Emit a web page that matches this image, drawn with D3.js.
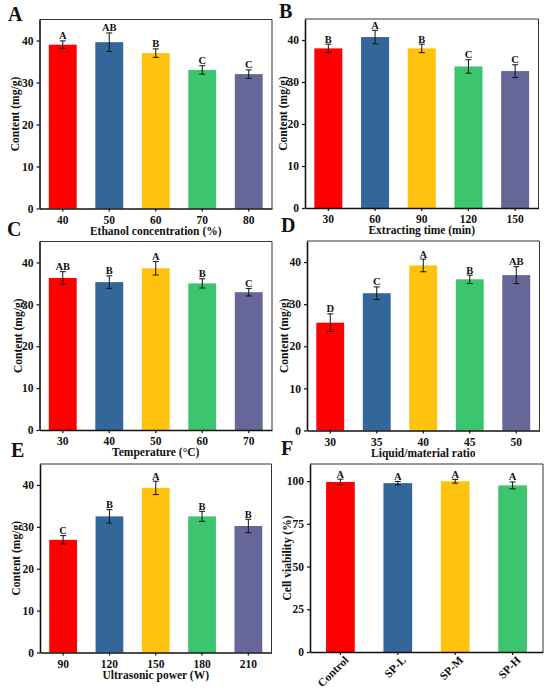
<!DOCTYPE html>
<html>
<head>
<meta charset="utf-8">
<script src="https://cdn.jsdelivr.net/npm/d3@7"></script>
<style>
  body { margin: 0; background: #fff; }
  svg text { font-family: "Liberation Serif", "Times New Roman", serif; font-weight: bold; fill: #111; }
</style>
</head>
<body>
<svg id="chart" width="550" height="694"></svg>
<script>
// bar colours, same order in every panel
var barColors = ["#ff0000", "#336699", "#ffc20e", "#3dc46e", "#666699"];

// A - ethanol concentration
var ethanolCats = ["40", "50", "60", "70", "80"];
var ethanolMean = [39.0, 39.6, 37.0, 33.0, 32.0];
var ethanolErr  = [0.9, 2.2, 1.0, 1.0, 1.0];
var ethanolSig  = ["A", "AB", "B", "C", "C"];

// B - extracting time
var timeCats = ["30", "60", "90", "120", "150"];
var timeMean = [38.0, 40.7, 38.0, 33.7, 32.6];
var timeErr  = [1.0, 1.6, 1.0, 1.6, 1.5];
var timeSig  = ["B", "A", "B", "C", "C"];

// C - temperature
var tempCats = ["30", "40", "50", "60", "70"];
var tempMean = [36.3, 35.3, 38.6, 35.0, 32.9];
var tempErr  = [1.5, 1.5, 1.6, 1.1, 0.9];
var tempSig  = ["AB", "B", "A", "B", "C"];

// D - liquid/material ratio
var ratioCats = ["30", "35", "40", "45", "50"];
var ratioMean = [25.6, 32.6, 39.2, 35.9, 36.9];
var ratioErr  = [2.1, 1.5, 1.5, 1.0, 2.0];
var ratioSig  = ["D", "C", "A", "B", "AB"];

// E - ultrasonic power
var powerCats = ["90", "120", "150", "180", "210"];
var powerMean = [26.9, 32.5, 39.3, 32.5, 30.2];
var powerErr  = [1.0, 1.6, 1.6, 1.2, 1.6];
var powerSig  = ["C", "B", "A", "B", "B"];

// F - cell viability
var cellCats = ["Control", "SP-L", "SP-M", "SP-H"];
var cellMean = [99.5, 98.8, 99.9, 97.5];
var cellErr  = [1.6, 1.0, 1.1, 2.0];
var cellSig  = ["A", "A", "A", "A"];

var contentTicks = [0, 10, 20, 30, 40];
var cellTicks = [0, 25, 50, 75, 100];

var svg = d3.select("#chart");

function drawPanel(p) {
  var g = svg.append("g").attr("transform", "translate(" + p.left + "," + p.top + ")");
  var w = p.width, h = p.height;

  var x = d3.scaleBand()
    .domain(p.cats)
    .range([0, w])
    .paddingInner(p.padIn)
    .paddingOuter(p.padOut);
  var y = d3.scaleLinear().domain([0, p.yMax]).range([h, 0]);

  var rows = p.cats.map(function(c, i) {
    return {cat: c, mean: p.mean[i], err: p.err[i], sig: p.sig[i], color: barColors[i]};
  });

  // bars
  g.selectAll("rect.bar").data(rows).enter().append("rect")
    .attr("class", "bar")
    .attr("x", function(d) { return x(d.cat); })
    .attr("y", function(d) { return y(d.mean); })
    .attr("width", x.bandwidth())
    .attr("height", function(d) { return h - y(d.mean); })
    .attr("fill", function(d) { return d.color; });

  // error bars
  var cap = 3;
  var eb = g.selectAll("g.err").data(rows).enter().append("g")
    .attr("class", "err")
    .attr("transform", function(d) { return "translate(" + (x(d.cat) + x.bandwidth() / 2) + ",0)"; })
    .attr("stroke", "#111").attr("stroke-width", 1);
  eb.append("line")
    .attr("y1", function(d) { return y(d.mean - d.err); })
    .attr("y2", function(d) { return y(d.mean + d.err); });
  eb.append("line").attr("x1", -cap).attr("x2", cap)
    .attr("y1", function(d) { return y(d.mean + d.err); })
    .attr("y2", function(d) { return y(d.mean + d.err); });
  eb.append("line").attr("x1", -cap).attr("x2", cap)
    .attr("y1", function(d) { return y(d.mean - d.err); })
    .attr("y2", function(d) { return y(d.mean - d.err); });

  // significance letters
  g.selectAll("text.sig").data(rows).enter().append("text")
    .attr("class", "sig")
    .attr("x", function(d) { return x(d.cat) + x.bandwidth() / 2; })
    .attr("y", function(d) { return y(d.mean + d.err) - 1.5; })
    .attr("text-anchor", "middle")
    .style("font-size", "10.5px")
    .text(function(d) { return d.sig; });

  // top / right frame
  g.append("path")
    .attr("d", "M0,0H" + w + "V" + h)
    .attr("fill", "none").attr("stroke", "#333").attr("stroke-width", 1);

  // axes
  var yAxis = g.append("g")
    .call(d3.axisLeft(y).tickValues(p.ticks).tickSize(3).tickPadding(3).tickSizeOuter(0));
  var xAxis = g.append("g").attr("transform", "translate(0," + h + ")")
    .call(d3.axisBottom(x).tickSize(3).tickPadding(4).tickSizeOuter(0));
  [yAxis, xAxis].forEach(function(a) {
    a.select(".domain").attr("stroke", "#111").attr("stroke-width", 1.6);
    a.selectAll(".tick line").attr("stroke", "#111").attr("stroke-width", 1.2);
    a.selectAll("text").attr("font-family", null).style("font-size", "11.5px").attr("fill", "#111");
  });

  if (p.rotate) {
    xAxis.selectAll(".tick text")
      .attr("text-anchor", "end")
      .attr("dy", "0.35em")
      .attr("transform", "translate(6,6) rotate(-45)")
      .attr("y", 0).attr("x", 0);
  }

  // axis titles
  g.append("text")
    .attr("transform", "translate(" + p.yTitleX + "," + (h / 2) + ") rotate(-90)")
    .attr("text-anchor", "middle")
    .attr("dy", "0.35em")
    .style("font-size", "11.5px")
    .text(p.yTitle);
  if (p.xTitle) {
    g.append("text")
      .attr("x", w / 2)
      .attr("y", h + 22)
      .attr("dy", "0.35em")
      .attr("text-anchor", "middle")
      .style("font-size", "11.5px")
      .text(p.xTitle);
  }

  // panel letter
  svg.append("text")
    .attr("x", p.letterX).attr("y", p.letterY)
    .style("font-size", "20px")
    .text(p.letter);
}

var panels = [
  {letter: "A", letterX: 8, letterY: 21, left: 39.5, top: 19.5, width: 232.5, height: 189,
   cats: ethanolCats, mean: ethanolMean, err: ethanolErr, sig: ethanolSig,
   yMax: 45, ticks: contentTicks, yTitle: "Content (mg/g)", yTitleX: -25,
   xTitle: "Ethanol concentration (%)", padIn: 0.4, padOut: 0.2},
  {letter: "B", letterX: 279, letterY: 18, left: 305, top: 19, width: 233.5, height: 189,
   cats: timeCats, mean: timeMean, err: timeErr, sig: timeSig,
   yMax: 45, ticks: contentTicks, yTitle: "Content (mg/g)", yTitleX: -22,
   xTitle: "Extracting time (min)", padIn: 0.4, padOut: 0.2},
  {letter: "C", letterX: 7, letterY: 236, left: 39.5, top: 241.5, width: 232.5, height: 188.5,
   cats: tempCats, mean: tempMean, err: tempErr, sig: tempSig,
   yMax: 45, ticks: contentTicks, yTitle: "Content (mg/g)", yTitleX: -22,
   xTitle: "Temperature (\u00B0C)", padIn: 0.4, padOut: 0.2},
  {letter: "D", letterX: 281, letterY: 232, left: 307, top: 241, width: 232.5, height: 189.5,
   cats: ratioCats, mean: ratioMean, err: ratioErr, sig: ratioSig,
   yMax: 45, ticks: contentTicks, yTitle: "Content (mg/g)", yTitleX: -23,
   xTitle: "Liquid/material ratio", padIn: 0.4, padOut: 0.2},
  {letter: "E", letterX: 11, letterY: 457, left: 40, top: 464, width: 231.5, height: 188.5,
   cats: powerCats, mean: powerMean, err: powerErr, sig: powerSig,
   yMax: 45, ticks: contentTicks, yTitle: "Content (mg/g)", yTitleX: -24,
   xTitle: "Ultrasonic power (W)", padIn: 0.4, padOut: 0.2},
  {letter: "F", letterX: 281, letterY: 455, left: 310, top: 464, width: 233, height: 188,
   cats: cellCats, mean: cellMean, err: cellErr, sig: cellSig,
   yMax: 110, ticks: cellTicks, yTitle: "Cell viability (%)", yTitleX: -23,
   xTitle: null, rotate: true, padIn: 0.5, padOut: 0.28}
];

panels.forEach(drawPanel);
</script>
</body>
</html>
